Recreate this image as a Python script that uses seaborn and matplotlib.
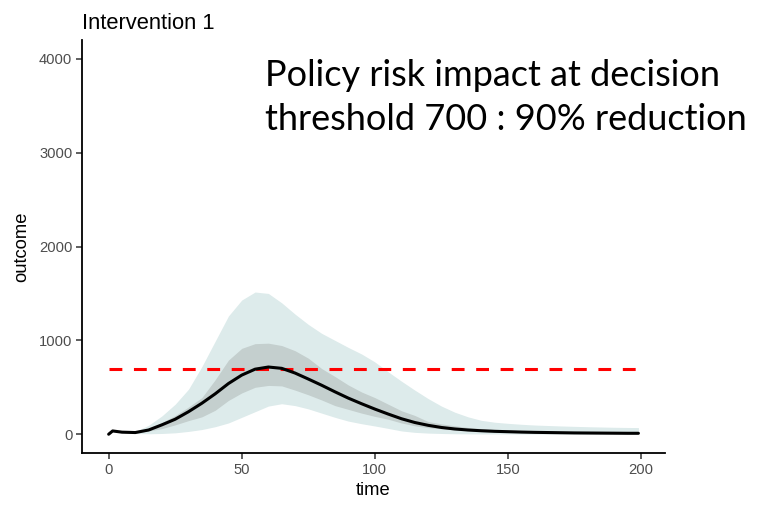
import matplotlib
matplotlib.use("Agg")
import matplotlib.pyplot as plt
import numpy as np
import pandas as pd
import seaborn as sns

# Simulated outcome trajectory under Intervention 1: median and two uncertainty bands
time = [0, 1.5, 5, 10, 15, 20, 25, 30, 35, 40, 45, 50, 55, 60, 65, 70, 75, 80,
        85, 90, 95, 100, 105, 110, 115, 120, 125, 130, 135, 140, 145, 150, 155,
        160, 165, 170, 175, 180, 185, 190, 195, 199]

median = [0, 35, 22, 18, 45, 100, 160, 240, 330, 430, 540, 630, 693, 716, 702,
          652, 588, 522, 452, 385, 325, 268, 215, 165, 125, 95, 72, 56, 45, 37,
          31, 27, 23, 20, 18, 16, 14, 13, 12, 11, 10, 10]

outer_upper = [0, 40, 28, 30, 95, 195, 320, 480, 720, 990, 1260, 1430, 1515,
               1500, 1400, 1280, 1170, 1075, 1000, 925, 855, 770, 665, 565, 470,
               380, 300, 235, 185, 148, 128, 116, 106, 98, 93, 88, 84, 80, 77,
               74, 72, 71]

outer_lower = [0, 28, 15, 8, 5, 8, 15, 30, 50, 80, 120, 180, 240, 300, 325, 305,
               270, 225, 180, 140, 112, 88, 62, 35, 20, 12, 8, 5, 4, 3, 3, 3, 2,
               2, 2, 2, 2, 2, 2, 2, 2, 2]

inner_upper = [0, 38, 24, 22, 55, 125, 200, 290, 390, 580, 790, 915, 965, 970,
               945, 890, 810, 700, 615, 525, 450, 390, 320, 250, 200, 135, 110,
               90, 72, 60, 50, 44, 39, 35, 32, 29, 27, 25, 23, 22, 21, 20]

inner_lower = [0, 32, 20, 15, 35, 60, 100, 145, 185, 255, 360, 440, 500, 520,
               515, 470, 420, 365, 305, 265, 225, 190, 160, 120, 90, 70, 58, 46,
               36, 29, 24, 20, 18, 16, 14, 12, 11, 10, 9, 8, 8, 7]

threshold = 700
title = "Intervention 1"
note = "Policy risk impact at decision\nthreshold 700 : 90% reduction"

df = pd.DataFrame({"time": time, "outcome": median,
                   "outer_lo": outer_lower, "outer_hi": outer_upper,
                   "inner_lo": inner_lower, "inner_hi": inner_upper})

sns.set_style("ticks")
plt.rcParams["font.family"] = ["Liberation Sans", "DejaVu Sans"]

fig = plt.figure(figsize=(7.61, 5.07), dpi=100)
ax = fig.add_axes([0.1078, 0.1065, 0.7661, 0.8146])

ax.fill_between(df["time"], df["outer_lo"], df["outer_hi"],
                color="#DDEBEB", linewidth=0, zorder=1)
ax.fill_between(df["time"], df["inner_lo"], df["inner_hi"],
                color="#C4CFCE", linewidth=0, zorder=2)

thr = pd.DataFrame({"time": [df["time"].min(), df["time"].max()],
                    "outcome": [threshold, threshold]})
sns.lineplot(data=thr, x="time", y="outcome", ax=ax, color="#FF0000",
             linewidth=2.2, linestyle=(0, (4.2, 3.8)), zorder=3)
sns.lineplot(data=df, x="time", y="outcome", ax=ax, color="black",
             linewidth=2.2, zorder=4)

ax.set_xlim(-10, 209)
ax.set_ylim(-200, 4200)
ax.set_xticks([0, 50, 100, 150, 200])
ax.set_yticks([0, 1000, 2000, 3000, 4000])

for side in ("top", "right"):
    ax.spines[side].set_visible(False)
for side in ("left", "bottom"):
    ax.spines[side].set_color("black")
    ax.spines[side].set_linewidth(1.3)

ax.tick_params(axis="both", colors="#333333", length=4, width=1.1,
               labelsize=10.6, labelcolor="#4D4D4D", pad=3)
ax.set_xlabel("time", fontsize=13.2, color="black", labelpad=4)
ax.set_ylabel("outcome", fontsize=13.2, color="black", labelpad=6)
ax.set_title(title, loc="left", fontsize=15.8, color="black", pad=8, x=0.0)

fig.text(265 / 761, 1 - 59 / 507, note, ha="left", va="top",
         fontsize=26, family=["Lato", "DejaVu Sans"], color="black",
         linespacing=1.42)

fig.savefig("out.png", dpi=100, facecolor="white")
